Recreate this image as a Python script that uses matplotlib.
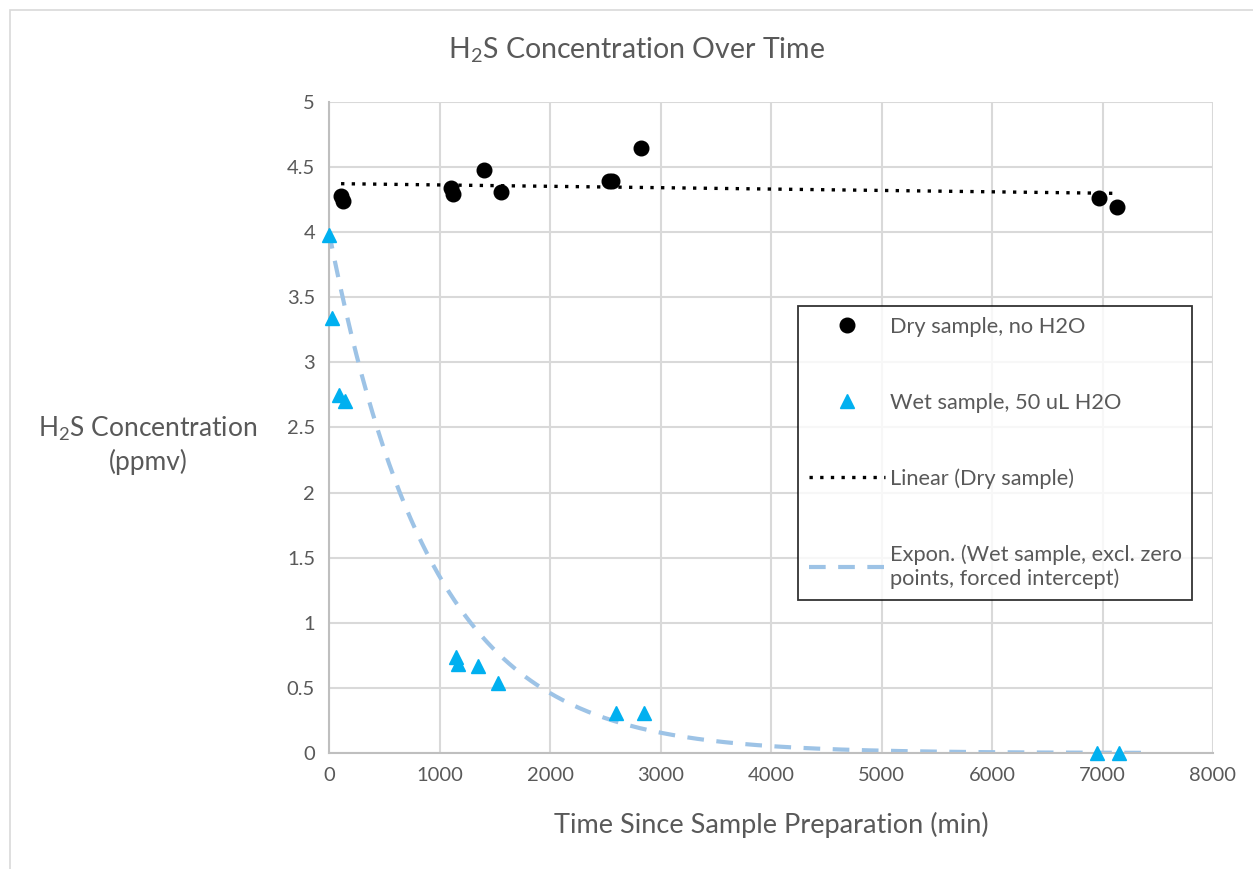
import numpy as np
import matplotlib.pyplot as plt
from matplotlib.patches import Rectangle

plt.rcParams['font.family'] = ['Lato', 'DejaVu Sans']
plt.rcParams['mathtext.default'] = 'regular'

# Dry sample, no H2O
dry_t = [109, 127, 1104, 1122, 1403, 1557, 2534, 2561, 2824, 6968, 7131]
dry_c = [4.28, 4.24, 4.34, 4.29, 4.48, 4.31, 4.39, 4.39, 4.65, 4.26, 4.19]

# Wet sample, 50 uL H2O
wet_t = [0, 27, 90, 145, 1149, 1167, 1348, 1529, 2597, 2851, 6950, 7149]
wet_c = [3.98, 3.34, 2.75, 2.70, 0.74, 0.68, 0.67, 0.54, 0.31, 0.31, 0.0, 0.0]

exp_intercept = 4.0
exp_end = 7380

grey = '#595959'
grid_col = '#d9d9d9'

fig = plt.figure(figsize=(12.53, 8.69), dpi=100)
fig.patches.append(Rectangle((10 / 1253, -0.1), 1.2, 1 - 10 / 869 + 0.1, transform=fig.transFigure,
                             fill=False, edgecolor=grid_col, lw=1.2))
ax = fig.add_axes([329 / 1253, 1 - 753 / 869, (1213 - 329) / 1253, (753 - 102) / 869])

# linear trend (dry)
dt = np.array(dry_t, dtype=float)
dc = np.array(dry_c)
m, b = np.polyfit(dt, dc, 1)
xl = np.array([dt.min(), dt.max()])
ax.plot(xl, m * xl + b, color='black', ls=(0, (1, 2.2)), lw=2.4, label='Linear (Dry sample)', zorder=3)

# exponential trend (wet, excluding zero points, forced intercept)
wt = np.array(wet_t, dtype=float)
wc = np.array(wet_c)
keep = wc > 0
k = np.sum(wt[keep] * np.log(wc[keep] / exp_intercept)) / np.sum(wt[keep] ** 2)
xe = np.linspace(0, exp_end, 300)
ax.plot(xe, exp_intercept * np.exp(k * xe), color='#9dc3e6', ls=(0, (4, 3)), lw=3,
        label='Expon. (Wet sample, excl. zero\npoints, forced intercept)', zorder=2)

ax.plot(dry_t, dry_c, 'o', color='black', ms=10.5, label='Dry sample, no H2O', zorder=4, clip_on=False)
ax.plot(wet_t, wet_c, '^', color='#00b0f0', ms=10.5, label='Wet sample, 50 uL H2O', zorder=4, clip_on=False)

ax.set_xlim(0, 8000)
ax.set_ylim(0, 5)
ax.set_xticks(np.arange(0, 8001, 1000))
ax.set_yticks(np.arange(0, 5.01, 0.5))
ax.set_yticklabels(['0', '0.5', '1', '1.5', '2', '2.5', '3', '3.5', '4', '4.5', '5'])
ax.grid(True, color=grid_col, lw=1.5)
ax.set_axisbelow(True)
for s in ['top', 'right']:
    ax.spines[s].set_visible(False)
for s in ['left', 'bottom']:
    ax.spines[s].set_color('#bfbfbf')
    ax.spines[s].set_linewidth(1.5)
ax.tick_params(length=0, labelsize=14.5, colors=grey, pad=10)
ax.set_xlabel('Time Since Sample Preparation (min)', fontsize=19.5, color=grey, labelpad=20)

fig.text(637 / 1253, 1 - 50 / 869, 'H$_2$S Concentration Over Time', ha='center', va='center',
         fontsize=20.5, color=grey)
fig.text(148 / 1253, 1 - 445 / 869, 'H$_2$S Concentration\n(ppmv)', ha='center', va='center',
         fontsize=19, color=grey, linespacing=1.25)

handles, labels = ax.get_legend_handles_labels()
order = [2, 3, 0, 1]
leg = ax.legend([handles[i] for i in order], [labels[i] for i in order],
                loc='upper left', bbox_to_anchor=((798 - 329) / 884, (753 - 306) / 651),
                fontsize=15.7, frameon=True, fancybox=False, edgecolor='black',
                labelspacing=2.55, handlelength=3.5, handletextpad=0.2, borderpad=0.5,
                borderaxespad=0)
leg.get_frame().set_linewidth(1.3)
for t in leg.get_texts():
    t.set_color(grey)

fig.savefig('out.png', dpi=100)
